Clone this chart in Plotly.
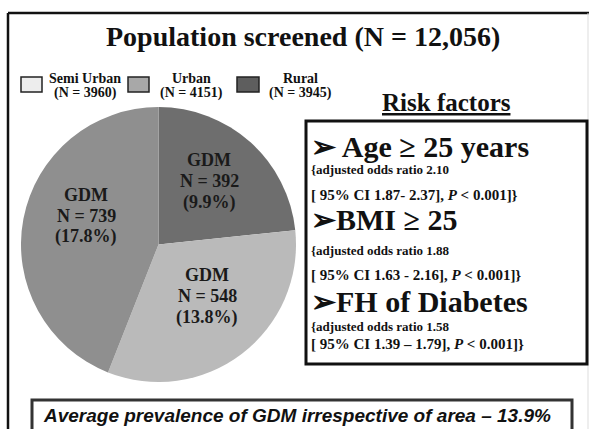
import plotly.graph_objects as go

W, H = 589, 429

# ---- data ----
areas = ["Rural", "Semi Urban", "Urban"]
screened = [3945, 3960, 4151]
gdm_cases = [392, 548, 739]
total_screened = 12056

legend_order = ["Semi Urban", "Urban", "Rural"]

risk_factors = ["Age \u2265 25 years", "BMI \u2265 25", "FH of Diabetes"]
odds_ratios = ["2.10", "1.88", "1.58"]
ci_texts = ["[ 95% CI 1.87- 2.37], <i>P</i> < 0.001]}",
            "[ 95% CI 1.63 - 2.16], <i>P</i> < 0.001]}",
            "[ 95% CI 1.39 \u2013 1.79], <i>P</i> < 0.001]}"]

# ---- styles ----
pie_colors = {"Rural": "#6e6e6e", "Semi Urban": "#bababa", "Urban": "#8f8f8f"}
legend_colors = {"Semi Urban": "#ededed", "Urban": "#a8a8a8", "Rural": "#5e5e5e"}
SERIF = "Liberation Serif"
SANS = "Liberation Sans"


def px(x):
    return x / W


def py(y):
    return 1 - y / H


def text(x, y, t, size, family=SERIF, anchor="center", color="#111"):
    return dict(x=px(x), y=py(y), xref="paper", yref="paper", xanchor=anchor, yanchor="middle",
                showarrow=False, text=t, align="center", font=dict(family=family, size=size, color=color))


fig = go.Figure()

# pie centre / radius in pixels
cx, cy, r = 158.5, 244.5, 137.5
fig.add_trace(go.Pie(
    labels=areas, values=gdm_cases, sort=False, direction="clockwise", rotation=0,
    marker=dict(colors=[pie_colors[a] for a in areas], line=dict(width=0)),
    textinfo="none", showlegend=False, hole=0, hoverinfo="skip",
    domain=dict(x=[px(cx - r), px(cx + r)], y=[py(cy + r), py(cy - r)]),
))

ann = []
shapes = []

# outer frame
shapes.append(dict(type="line", xref="paper", yref="paper", x0=px(8), x1=px(8), y0=py(13), y1=py(440),
                   line=dict(color="#111", width=2.5)))
shapes.append(dict(type="line", xref="paper", yref="paper", x0=px(8), x1=px(600), y0=py(13), y1=py(13),
                   line=dict(color="#111", width=2.5)))
shapes.append(dict(type="line", xref="paper", yref="paper", x0=px(588), x1=px(588), y0=py(13), y1=py(440),
                   line=dict(color="#dddddd", width=1)))

# title
ann.append(text(303, 37, f"<b>Population screened (N = {total_screened:,})</b>", 28))

# legend
leg_boxes = {"Semi Urban": (21, 42), "Urban": (128, 149), "Rural": (237, 259)}
leg_text_x = {"Semi Urban": 85, "Urban": 191, "Rural": 300}
for a in legend_order:
    x0, x1 = leg_boxes[a]
    shapes.append(dict(type="rect", xref="paper", yref="paper", x0=px(x0), x1=px(x1), y0=py(92), y1=py(77),
                       fillcolor=legend_colors[a], line=dict(color="#222", width=1.5)))
    n = screened[areas.index(a)]
    ann.append(text(leg_text_x[a], 79, f"<b>{a}</b>", 14))
    ann.append(text(leg_text_x[a], 93, f"<b>(N = {n})</b>", 14))

# pie labels
lab_pos = {"Rural": (209, 181), "Urban": (86, 216), "Semi Urban": (207, 296)}
for a, n, s in zip(areas, gdm_cases, screened):
    x, y = lab_pos[a]
    lines = ["GDM", f"N = {n}", f"({100 * n / s:.1f}%)"]
    for k, ln in enumerate(lines):
        ann.append(text(x, y + (k - 1) * 21, f"<b>{ln}</b>", 18, color="#1a1a1a"))

# risk factors heading
ann.append(text(446, 103, "<b><u>Risk factors</u></b>", 25))

# risk box
shapes.append(dict(type="rect", xref="paper", yref="paper", x0=px(306), x1=px(587), y0=py(364), y1=py(121),
                   fillcolor="rgba(0,0,0,0)", line=dict(color="#111", width=3)))

big_y = [146, 220, 301]
or_y = [169, 250, 326]
ci_y = [195, 275, 344]
prefixes = ["\u27a2 ", "\u27a2", "\u27a2"]
for i, rf in enumerate(risk_factors):
    ann.append(text(309, big_y[i], f"<b>{prefixes[i]}{rf}</b>", 30, anchor="left"))
    ann.append(text(309, or_y[i], f"<b>{{adjusted odds ratio {odds_ratios[i]}</b>", 13, anchor="left"))
    ann.append(text(309, ci_y[i], f"<b>{ci_texts[i]}</b>", 15, anchor="left"))

# bottom box
avg = 100 * sum(gdm_cases) / total_screened
shapes.append(dict(type="rect", xref="paper", yref="paper", x0=px(32), x1=px(572), y0=py(440), y1=py(400),
                   fillcolor="white", line=dict(color="#333", width=3)))
ann.append(text(41, 415, f"<b><i>Average prevalence of GDM irrespective of area \u2013 {avg:.1f}%</i></b>",
                19, family=SANS, anchor="left"))

fig.update_layout(width=W, height=H, margin=dict(l=0, r=0, t=0, b=0), paper_bgcolor="white",
                  plot_bgcolor="white", annotations=ann, shapes=shapes, showlegend=False)
fig.write_html("out.html", config={"displayModeBar": False},
               post_script="document.body.style.margin='0';")
